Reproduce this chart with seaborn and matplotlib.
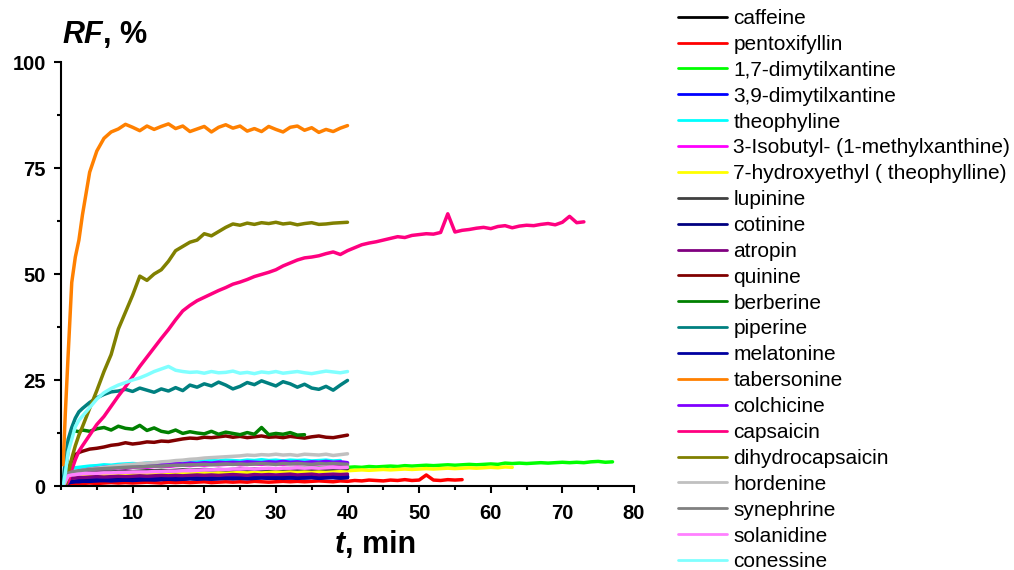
import numpy as np
import pandas as pd
import matplotlib.pyplot as plt
import seaborn as sns
from matplotlib.lines import Line2D
from matplotlib.ticker import MultipleLocator

sns.set_theme(style="ticks")
plt.rcParams['font.family'] = ['Liberation Sans', 'DejaVu Sans']
plt.rcParams['text.color'] = 'black'

# sampling times, min (each series uses the first len(values) of them)
t_min = [0.3, 0.6, 1, 1.5, 2, 2.5, 3] + list(range(4, 78))

names = ['caffeine', 'pentoxifyllin', '1,7-dimytilxantine', '3,9-dimytilxantine',
         'theophyline', '3-Isobutyl- (1-methylxanthine)', '7-hydroxyethyl ( theophylline)',
         'lupinine', 'cotinine', 'atropin', 'quinine', 'berberine', 'piperine',
         'melatonine', 'tabersonine', 'colchicine', 'capsaicin', 'dihydrocapsaicin',
         'hordenine', 'synephrine', 'solanidine', 'conessine']
colors = ['#000000', '#FF0000', '#00FF00', '#0000FF', '#00FFFF', '#FF00FF', '#FFFF00',
          '#404040', '#000080', '#800080', '#800000', '#008000', '#008080', '#0000A0',
          '#FF8000', '#8000FF', '#FF0080', '#808000', '#C0C0C0', '#808080', '#FF80FF',
          '#80FFFF']

# RF, % (rows: t 0.3-3, then 10 values per row from t=4)
caffeine = [0, 0.5, 1.2, 1.4, 1.5, 1.6, 1.6,
            1.7, 1.8, 1.7, 1.9, 1.8, 1.9, 2.0, 1.9, 2.0, 2.1,
            2.0, 2.1, 2.0, 2.2, 2.1, 2.0, 2.2, 2.1, 2.2, 2.1,
            2.3, 2.2, 2.1, 2.2, 2.3, 2.2, 2.1, 2.3, 2.2, 2.3,
            2.2, 2.1, 2.3, 2.2, 2.3, 2.2, 2.3]
pentoxifyllin = [0, 0.2, 0.4, 0.5, 0.5, 0.6, 0.6,
                 0.7, 0.6, 0.7, 0.8, 0.7, 0.8, 0.7, 0.8, 0.9, 0.8,
                 0.7, 0.9, 0.8, 0.9, 0.8, 0.9, 1.0, 0.8, 0.9, 1.0,
                 0.9, 1.0, 0.9, 1.1, 1.0, 0.9, 1.0, 1.1, 1.0, 1.1,
                 1.0, 1.1, 1.2, 1.1, 1.0, 1.2, 1.1, 1.3, 1.2, 1.4,
                 1.3, 1.2, 1.4, 1.3, 1.5, 1.3, 1.4, 2.6, 1.4, 1.3,
                 1.5, 1.4, 1.5]
dmx17 = [0, 0.3, 0.8, 1.2, 1.5, 1.7, 1.9,
         2.1, 2.3, 2.4, 2.6, 2.7, 2.8, 2.9, 3.0, 3.1, 3.1,
         3.2, 3.3, 3.3, 3.4, 3.5, 3.5, 3.6, 3.6, 3.7, 3.7,
         3.8, 3.8, 3.9, 3.9, 4.0, 4.0, 4.0, 4.1, 4.1, 4.2,
         4.2, 4.2, 4.3, 4.3, 4.3, 4.4, 4.4, 4.5, 4.4, 4.6,
         4.5, 4.6, 4.7, 4.6, 4.8, 4.7, 4.8, 4.9, 4.8, 4.9,
         5.0, 4.9, 5.0, 5.1, 5.0, 5.1, 5.2, 5.1, 5.4, 5.3,
         5.4, 5.3, 5.4, 5.5, 5.4, 5.5, 5.6, 5.5, 5.6, 5.5,
         5.7, 5.8, 5.6, 5.7]
dmx39 = [0, 0.4, 1.0, 1.2, 1.3, 1.4, 1.4,
         1.5, 1.6, 1.5, 1.6, 1.7, 1.6, 1.7, 1.8, 1.7, 1.8,
         1.9, 1.8, 1.9, 1.8, 1.9, 2.0, 1.9, 2.0, 1.9, 2.0,
         2.1, 2.0, 1.9, 2.1, 2.0, 2.1, 2.0, 2.1, 2.2, 2.0,
         2.1, 2.2, 2.0, 2.1, 2.2, 2.1, 2.2]
theophyline = [0, 2.0, 3.8, 4.2, 4.3, 4.4, 4.5,
               4.7, 4.8, 5.0, 4.9, 5.1, 5.2, 5.3, 5.2, 5.4, 5.5,
               5.4, 5.6, 5.7, 5.6, 5.8, 5.7, 5.9, 6.0, 5.9, 6.1,
               6.0, 5.9, 6.1, 6.0, 6.2, 6.0, 6.1, 5.9, 6.1, 6.0,
               6.1, 5.9, 6.0, 6.1, 5.9, 6.0]
isobutyl = [0, 1.0, 2.4, 2.9, 3.2, 3.4, 3.5,
            3.7, 3.9, 4.0, 4.1, 4.3, 4.2, 4.4, 4.5, 4.4, 4.6,
            4.7, 4.6, 4.8, 4.9, 4.8, 5.0, 4.9, 5.1, 5.0, 5.1,
            5.2, 5.0, 5.1, 5.2, 5.1, 5.3, 5.2, 5.1, 5.3, 5.2,
            5.3, 5.1, 5.2, 5.3, 5.2, 5.1, 5.3]
hydroxyethyl = [0, 0.5, 1.4, 1.8, 2.0, 2.1, 2.2,
                2.3, 2.4, 2.5, 2.6, 2.6, 2.7, 2.8, 2.8, 2.9, 2.9,
                3.0, 2.9, 3.0, 3.1, 3.0, 3.1, 3.2, 3.1, 3.2, 3.1,
                3.2, 3.3, 3.2, 3.3, 3.2, 3.3, 3.4, 3.3, 3.4, 3.3,
                3.4, 3.5, 3.4, 3.5, 3.6, 3.5, 3.6, 3.7, 3.8, 3.7,
                3.8, 3.9, 3.8, 3.9, 4.0, 3.9, 4.0, 4.1, 4.0, 4.1,
                4.2, 4.1, 4.2, 4.3, 4.2, 4.3, 4.4, 4.3, 4.5, 4.4]
lupinine = [0, 1.0, 2.2, 2.6, 2.8, 2.9, 3.0,
            3.1, 3.2, 3.3, 3.3, 3.4, 3.5, 3.4, 3.5, 3.6, 3.6,
            3.7, 3.6, 3.7, 3.8, 3.7, 3.8, 3.9, 3.8, 3.9, 3.8,
            3.9, 4.0, 3.9, 4.0, 3.9, 4.0, 4.1, 4.0, 4.1, 4.0,
            4.1, 4.0, 4.1, 4.0, 4.1, 4.2, 4.1]
cotinine = [0, 0.3, 0.8, 1.0, 1.1, 1.2, 1.2,
            1.3, 1.4, 1.3, 1.4, 1.5, 1.4, 1.5, 1.6, 1.5, 1.6,
            1.7, 1.6, 1.7, 1.6, 1.8, 1.7, 1.8, 1.7, 1.8, 1.9,
            1.8, 1.9, 1.8, 1.9, 2.0, 1.9, 1.8, 2.0, 1.9, 2.0,
            1.9, 2.0, 1.9, 2.1, 2.0, 1.9, 2.0]
atropin = [0, 0.6, 1.5, 1.8, 1.9, 2.0, 2.0,
           2.1, 2.2, 2.1, 2.2, 2.3, 2.2, 2.3, 2.4, 2.3, 2.4,
           2.5, 2.4, 2.5, 2.4, 2.5, 2.6, 2.5, 2.6, 2.5, 2.6,
           2.7, 2.6, 2.5, 2.7, 2.6, 2.7, 2.6, 2.7, 2.8, 2.6,
           2.7, 2.8, 2.6, 2.7, 2.8, 2.7, 2.8]
quinine = [0, 1.0, 4.0, 6.0, 7.4, 7.9, 8.2,
           8.7, 8.9, 9.2, 9.6, 9.8, 10.2, 9.9, 10.1, 10.4, 10.3,
           10.6, 10.5, 10.8, 11.1, 11.3, 11.2, 11.5, 11.4, 11.6, 11.8,
           11.5, 11.7, 11.4, 11.6, 11.8, 11.5, 11.6, 11.4, 11.7, 11.5,
           11.3, 11.6, 11.8, 11.5, 11.4, 11.7, 12.0]
berberine = [0, 2.0, 9.0, 12.5, 13.0, 12.8, 13.2,
             12.9, 13.5, 13.8, 13.2, 14.1, 13.6, 13.4, 14.3, 13.1, 13.7,
             12.9, 12.6, 13.2, 12.4, 12.8, 12.5, 12.3, 12.9, 12.2, 12.7,
             12.4, 12.1, 12.6, 12.2, 13.8, 12.1, 12.4, 12.2, 12.6, 12.0,
             12.1]
piperine = [1.0, 6.0, 11.0, 13.8, 16.0, 17.5, 18.3,
            19.7, 20.8, 21.6, 22.2, 22.4, 22.8, 22.3, 23.1, 22.6, 22.1,
            22.9, 22.4, 23.2, 22.5, 23.8, 23.3, 24.1, 23.6, 24.5, 23.8,
            22.9, 23.5, 24.4, 23.9, 24.8, 24.2, 23.6, 24.6, 24.1, 23.3,
            24.0, 23.1, 22.8, 23.5, 22.6, 23.8, 24.9]
melatonine = [0, 0.3, 0.7, 0.9, 1.0, 1.0, 1.1,
              1.1, 1.2, 1.3, 1.2, 1.3, 1.4, 1.3, 1.4, 1.5, 1.4,
              1.5, 1.6, 1.5, 1.6, 1.7, 1.6, 1.7, 1.6, 1.7, 1.8,
              1.7, 1.8, 1.7, 1.8, 1.9, 1.8, 1.9, 1.8, 1.9, 1.8,
              1.9, 2.0, 1.8, 1.9, 2.0, 1.9, 2.0]
tabersonine = [5, 17, 31, 48, 54, 58, 64,
               74, 79, 82, 83.5, 84.2, 85.3, 84.6, 83.8, 84.9, 84.1,
               84.8, 85.4, 84.3, 84.9, 83.6, 84.2, 84.8, 83.5, 84.6, 85.2,
               84.4, 84.9, 83.7, 84.3, 83.6, 84.8, 84.1, 83.5, 84.6, 84.9,
               83.9, 84.5, 83.4, 84.1, 83.6, 84.4, 85.0]
colchicine = [0, 1.0, 2.5, 3.0, 3.3, 3.5, 3.7,
              4.0, 4.2, 4.4, 4.5, 4.6, 4.8, 4.9, 5.0, 4.9, 5.1,
              5.2, 5.1, 5.3, 5.2, 5.4, 5.3, 5.5, 5.4, 5.6, 5.5,
              5.6, 5.5, 5.7, 5.6, 5.5, 5.7, 5.6, 5.8, 5.6, 5.7,
              5.5, 5.7, 5.6, 5.8, 5.6, 5.7, 5.5]
capsaicin = [0, 0, 1.0, 3.8, 6.2, 8.2, 9.5,
             12.0, 14.5, 16.4, 18.8, 21.2, 23.4, 25.8, 28.2, 30.4, 32.6,
             34.8, 36.9, 39.2, 41.3, 42.6, 43.7, 44.5, 45.3, 46.1, 46.8,
             47.6, 48.1, 48.7, 49.4, 49.9, 50.4, 51.0, 51.9, 52.6, 53.3,
             53.8, 54.0, 54.3, 54.8, 55.2, 54.6, 55.5, 56.2, 56.9, 57.3,
             57.6, 58.0, 58.4, 58.8, 58.6, 59.1, 59.3, 59.5, 59.4, 59.8,
             64.2, 59.9, 60.3, 60.5, 60.8, 61.0, 60.7, 61.2, 61.4, 60.9,
             61.3, 61.5, 61.4, 61.7, 61.9, 61.6, 62.2, 63.6, 62.1, 62.3]
dihydrocapsaicin = [0, 0, 3.0, 6.5, 9.5, 12.0, 14.0,
                    18.3, 22.5, 27.0, 31.0, 37.0, 41.0, 45.0, 49.5, 48.5, 50.0,
                    51.0, 53.0, 55.5, 56.5, 57.5, 58.0, 59.5, 59.0, 60.0, 61.0,
                    61.8, 61.5, 62.0, 61.7, 62.1, 61.9, 62.2, 61.8, 62.0, 61.6,
                    61.9, 62.1, 61.7, 61.8, 62.0, 62.1, 62.2]
hordenine = [0, 1.0, 2.5, 3.0, 3.3, 3.5, 3.7,
             4.0, 4.2, 4.4, 4.6, 4.8, 5.0, 5.1, 5.3, 5.4, 5.5,
             5.7, 5.8, 6.0, 6.1, 6.3, 6.4, 6.6, 6.7, 6.8, 6.9,
             7.0, 7.1, 7.3, 7.2, 7.4, 7.3, 7.5, 7.3, 7.4, 7.2,
             7.5, 7.4, 7.3, 7.5, 7.2, 7.4, 7.6]
synephrine = [0, 1.5, 3.0, 3.3, 3.5, 3.6, 3.7,
              3.9, 4.0, 4.1, 4.2, 4.3, 4.4, 4.5, 4.5, 4.6, 4.7,
              4.7, 4.8, 4.9, 4.9, 5.0, 5.0, 5.1, 5.0, 5.1, 5.2,
              5.1, 5.2, 5.1, 5.2, 5.3, 5.2, 5.1, 5.3, 5.2, 5.3,
              5.2, 5.1, 5.3, 5.2, 5.3, 5.2, 5.1]
solanidine = [0, 1.2, 2.4, 2.6, 2.7, 2.8, 2.9,
              3.0, 3.0, 3.1, 3.1, 3.2, 3.2, 3.3, 3.3, 3.3, 3.4,
              3.4, 3.5, 3.5, 3.6, 3.6, 3.7, 3.8, 3.8, 3.9, 3.9,
              4.0, 4.0, 4.1, 4.0, 4.1, 4.2, 4.1, 4.2, 4.2, 4.3,
              4.2, 4.3, 4.2, 4.3, 4.4, 4.3, 4.4]
conessine = [0, 3.0, 8.0, 11.0, 14.0, 15.5, 16.5,
             18.5, 20.5, 22.0, 23.0, 23.8, 24.4, 25.0, 25.5, 26.2, 27.0,
             27.6, 28.2, 27.3, 27.0, 26.8, 26.9, 26.6, 27.0, 26.7, 26.8,
             27.1, 26.6, 26.8, 26.5, 26.9, 26.7, 27.0, 26.6, 26.8, 27.0,
             26.7, 26.5, 26.8, 27.1, 26.9, 26.7, 27.0]

series = [caffeine, pentoxifyllin, dmx17, dmx39, theophyline, isobutyl, hydroxyethyl,
          lupinine, cotinine, atropin, quinine, berberine, piperine, melatonine,
          tabersonine, colchicine, capsaicin, dihydrocapsaicin, hordenine, synephrine,
          solanidine, conessine]

rows = []
for name, vals in zip(names, series):
    for t, v in zip(t_min, vals):
        rows.append((name, t, v))
df = pd.DataFrame(rows, columns=['compound', 't', 'RF'])
palette = dict(zip(names, colors))

fig = plt.figure(figsize=(10.14, 5.7), dpi=100)
ax = fig.add_axes([61 / 1014, 1 - 486 / 570, (634 - 61) / 1014, (486 - 62) / 570])

sns.lineplot(data=df, x='t', y='RF', hue='compound', hue_order=names, palette=palette,
             estimator=None, sort=False, lw=2.5, ax=ax, legend=False)

ax.set_xlim(0, 80)
ax.set_ylim(0, 100)
ax.set_xticks([10, 20, 30, 40, 50, 60, 70, 80])
ax.set_yticks([0, 25, 50, 75, 100])
ax.xaxis.set_minor_locator(MultipleLocator(5))
ax.yaxis.set_minor_locator(MultipleLocator(12.5))
ax.set_xlabel('')
ax.set_ylabel('')
sns.despine(ax=ax)
for s in ['left', 'bottom']:
    ax.spines[s].set_linewidth(1.5)
    ax.spines[s].set_color('black')
ax.tick_params(which='major', direction='out', length=5, width=1.5, colors='black',
               labelsize=14.5, pad=6)
ax.tick_params(which='minor', direction='out', length=3, width=1.5, colors='black')
ax.tick_params(axis='x', which='major', pad=8)
for lab in ax.get_xticklabels() + ax.get_yticklabels():
    lab.set_fontweight('bold')

# axis titles
t1 = fig.text(62 / 1014, 1 - 43 / 570, 'RF', fontsize=22, fontweight='bold',
              fontstyle='italic', va='baseline', ha='left')
ax.annotate(', %', xy=(1, 0), xycoords=t1, va='bottom', ha='left',
            fontsize=22, fontweight='bold')
t2 = fig.text(335 / 1014, 1 - 553 / 570, 't', fontsize=22, fontweight='bold',
              fontstyle='italic', va='baseline', ha='left')
ax.annotate(', min', xy=(1, 0), xycoords=t2, va='bottom', ha='left',
            fontsize=22, fontweight='bold')

handles = [Line2D([], [], color=c, lw=2.0) for c in colors]
leg = fig.legend(handles, names, loc='upper left', bbox_to_anchor=(678 / 1014, 1 - 9 / 570),
                 frameon=False, fontsize=15, handlelength=2.35, handletextpad=0.3,
                 labelspacing=0.33, borderpad=0, borderaxespad=0)
for txt in leg.get_texts():
    txt.set_color('black')

fig.savefig('out.png', dpi=100)
